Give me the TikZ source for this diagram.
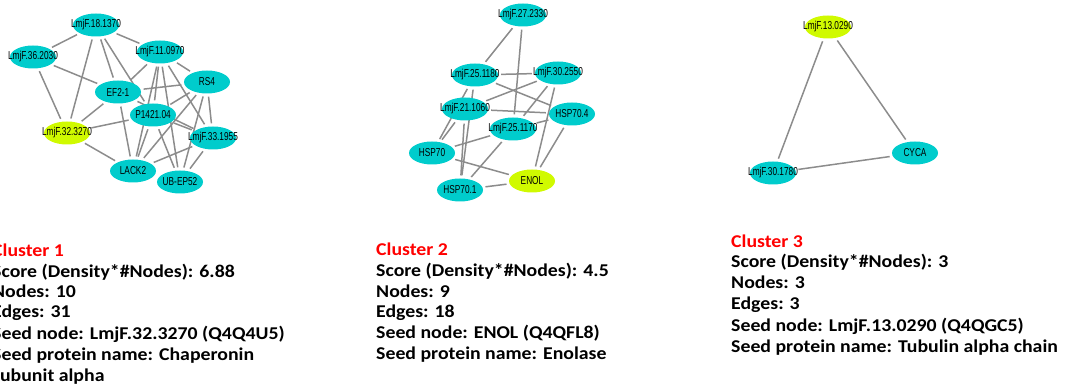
\documentclass[tikz,border=0pt]{standalone}
\usepackage{fontspec}
\setmainfont{Carlito}
\newfontfamily\labelfont[FakeStretch=0.72]{Liberation Sans}
\newfontfamily\infofont[FakeStretch=1.1]{Carlito}
\usetikzlibrary{shapes.geometric,backgrounds}
\definecolor{nodecyan}{RGB}{0,204,204}
\definecolor{seedgreen}{RGB}{208,250,0}
\definecolor{edgegray}{RGB}{140,140,140}
\definecolor{clusterred}{RGB}{255,0,0}
\newcommand{\protein}[4]{
  \node[#1] (#2) at (#3) {\makebox[0pt]{#4}};
}

\begin{document}
\begin{tikzpicture}[x=1pt,y=-1pt,
    prot/.style={ellipse,fill=nodecyan,inner sep=0pt,minimum width=46pt,minimum height=23pt,
      font=\labelfont\fontsize{11.5}{13}\selectfont},
    seed/.style={prot,fill=seedgreen},
    edge/.style={draw=edgegray,line width=1.5pt,shorten >=3pt,shorten <=3pt},
    info/.style={anchor=base west,inner sep=0pt,font=\infofont\bfseries\fontsize{18}{21}\selectfont}]
  \useasboundingbox (0,0) rectangle (1072,387);

  %% cluster 1
  \protein{prot}{n18}{96,25}{LmjF.18.1370}
  \protein{prot}{n36}{33,57}{LmjF.36.2030}
  \protein{prot}{n11}{160,52}{LmjF.11.0970}
  \protein{prot}{rs4}{207,82}{RS4}
  \protein{prot}{ef2}{118,92}{EF2-1}
  \protein{prot}{p1421}{153,115}{P1421.04}
  \protein{seed}{n32}{67,133}{LmjF.32.3270}
  \protein{prot}{n33}{213,138}{LmjF.33.1955}
  \protein{prot}{lack2}{133,171}{LACK2}
  \protein{prot}{ubep}{180,182}{UB-EP52}
  \begin{pgfonlayer}{background}
  \foreach \a/\b in {n18/n36,n18/n11,n18/n32,n18/ef2,n18/p1421,n36/ef2,n36/n32,
      n11/ef2,n11/rs4,n11/p1421,n11/ubep,n11/n33,n11/lack2,ef2/rs4,ef2/n32,ef2/lack2,
      ef2/n33,n32/p1421,n32/lack2,p1421/lack2,p1421/ubep,p1421/n33,rs4/p1421,
      rs4/lack2,rs4/ubep,rs4/n33,n33/lack2,n33/ubep}
    \draw[edge] (\a) -- (\b);
  \end{pgfonlayer}

  %% cluster 2
  \protein{prot}{n27}{523,15}{LmjF.27.2330}
  \protein{prot}{n25a}{475,75}{LmjF.25.1180}
  \protein{prot}{n30}{558,73}{LmjF.30.2550}
  \protein{prot}{n21}{465,109}{LmjF.21.1060}
  \protein{prot}{hsp704}{572,114}{HSP70.4}
  \protein{prot}{n25b}{513,129}{LmjF.25.1170}
  \protein{prot}{hsp70}{432,153}{HSP70}
  \protein{seed}{enol}{532,181}{ENOL}
  \protein{prot}{hsp701}{460,190}{HSP70.1}
  \begin{pgfonlayer}{background}
  \foreach \a/\b in {n27/n25a,n27/n25b,n25a/n30,n25a/hsp704,n25a/hsp70,n25a/hsp701,
      n30/n21,n30/n25b,n30/enol,n21/hsp704,n21/hsp70,n21/hsp701,n25b/hsp70,
      n25b/hsp701,n25b/hsp704,hsp70/enol,hsp701/enol,hsp704/enol}
    \draw[edge] (\a) -- (\b);
  \end{pgfonlayer}

  %% cluster 3
  \protein{seed}{n13}{828,27}{LmjF.13.0290}
  \protein{prot}{cyca}{915,153}{CYCA}
  \protein{prot}{n30b}{773,173}{LmjF.30.1780}
  \draw[edge] (n13) -- (cyca);
  \draw[edge] (n13) -- (n30b);
  \draw[edge] (n30b) -- (cyca);

  %% cluster info
  \node[info,text=clusterred] (c1t) at (-8,257) {Cluster 1};
  \node[info] (c1s) at (-8,278) {Score (Density*\#Nodes): 6.88};
  \node[info] (c1n) at (-8,298) {Nodes: 10};
  \node[info] (c1e) at (-8,318) {Edges: 31};
  \node[info] (c1d) at (-8,340) {Seed node: LmjF.32.3270 (Q4Q4U5)};
  \node[info] (c1p) at (-8,361) {Seed protein name: Chaperonin};
  \node[info] (c1q) at (-8,382) {subunit alpha};

  \node[info,text=clusterred] (c2t) at (376,256) {Cluster 2};
  \node[info] (c2s) at (376,277) {Score (Density*\#Nodes): 4.5};
  \node[info] (c2n) at (376,298) {Nodes: 9};
  \node[info] (c2e) at (376,318) {Edges: 18};
  \node[info] (c2d) at (376,339) {Seed node: ENOL (Q4QFL8)};
  \node[info] (c2p) at (376,360) {Seed protein name: Enolase};

  \node[info,text=clusterred] (c3t) at (731,248) {Cluster 3};
  \node[info] (c3s) at (731,268) {Score (Density*\#Nodes): 3};
  \node[info] (c3n) at (731,289) {Nodes: 3};
  \node[info] (c3e) at (731,310) {Edges: 3};
  \node[info] (c3d) at (731,332) {Seed node: LmjF.13.0290 (Q4QGC5)};
  \node[info] (c3p) at (731,353) {Seed protein name: Tubulin alpha chain};
\end{tikzpicture}
\end{document}
